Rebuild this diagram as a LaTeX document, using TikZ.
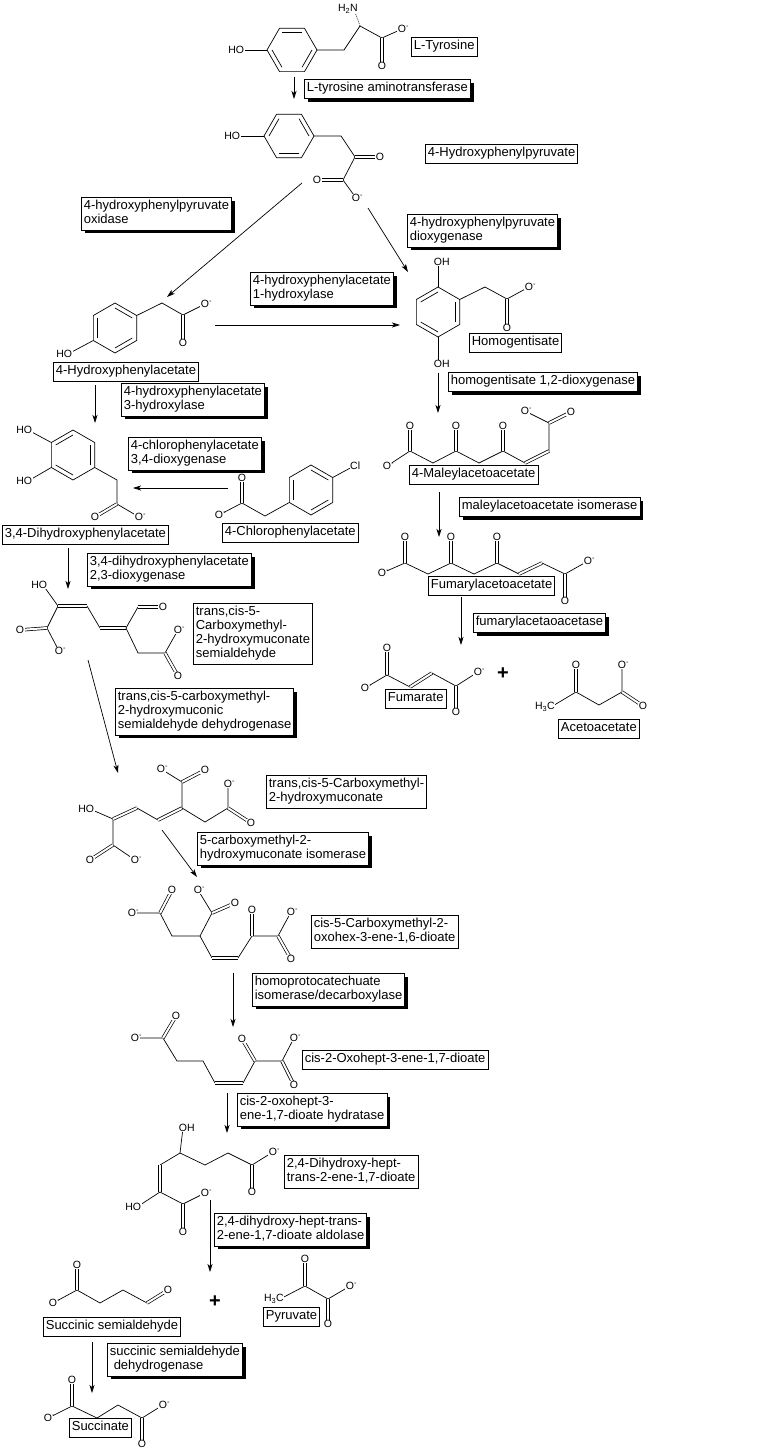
\documentclass[tikz,border=0pt]{standalone}
\usepackage{fontspec}
\setmainfont{Liberation Sans}
\usetikzlibrary{arrows.meta,shadows}
\begin{document}
\begin{tikzpicture}
[x=1pt,y=-1pt,line width=0.7pt,
  enzyme/.style={draw,fill=white,align=left,anchor=north west,inner xsep=2.5pt,inner ysep=2.5pt,
    font=\fontsize{13}{14}\selectfont,execute at begin node=\strut,execute at end node=\strut,
    drop shadow={shadow xshift=3.5pt,shadow yshift=-3.5pt,fill=black,opacity=1}},
  compound/.style={draw,fill=white,align=left,anchor=north west,inner xsep=2.5pt,inner ysep=2.5pt,
    font=\fontsize{13}{14}\selectfont,execute at begin node=\strut,execute at end node=\strut},
  atom/.style={fill=white,inner sep=0.5pt,font=\fontsize{10.5}{11}\selectfont},
  dbl/.style={double,double distance=2pt},
  rxn/.style={-{Stealth[length=8pt,width=5pt,inset=2pt]}}]
\useasboundingbox (0,0) rectangle (777,1450);
% L-Tyrosine
\draw (292,50) +(0:25) -- +(60:25) -- +(120:25) -- +(180:25) -- +(240:25) -- +(300:25) -- cycle;
\foreach \a in {0,120,240} \draw (292,50) +(\a:20) -- +(\a+60:20);
\draw (267,50) -- (240,50);
\draw (317,50) -- (344,50) -- (360,26) -- (382,38) -- (402,29);
\draw[dbl] (382,38) -- (382,66);
\draw[dash pattern=on 0.8pt off 1.2pt] (360,26) -- (354,9);
\node[atom] at (240,50) {\llap{H}O};
\node[atom] at (354,9) {\llap{H\textsubscript{2}}N};
\node[atom] at (402,29) {O\rlap{\textsuperscript{-}}};
\node[atom] at (382,66) {O};
% 4-Hydroxyphenylpyruvate
\draw (289,136) +(0:25) -- +(60:25) -- +(120:25) -- +(180:25) -- +(240:25) -- +(300:25) -- cycle;
\foreach \a in {60,180,300} \draw (289,136) +(\a:20) -- +(\a+60:20);
\draw (264,136) -- (236,136);
\draw (314,136) -- (341,136) -- (355,157) -- (343,180) -- (356,198);
\draw[dbl] (355,157) -- (380,157);
\draw[dbl] (343,180) -- (317,180);
\node[atom] at (236,136) {\llap{H}O};
\node[atom] at (380,157) {O};
\node[atom] at (317,180) {O};
\node[atom] at (356,198) {O\rlap{\textsuperscript{-}}};
% 4-Hydroxyphenylacetate
\draw (115,328) +(30:25) -- +(90:25) -- +(150:25) -- +(210:25) -- +(270:25) -- +(330:25) -- cycle;
\foreach \a in {30,150,270} \draw (115,328) +(\a:20) -- +(\a+60:20);
\draw (93.3,340.5) -- (68,354);
\draw (136.7,315.5) -- (162,303) -- (183,315) -- (205,304);
\draw[dbl] (183,315) -- (183,343);
\node[atom] at (68,354) {\llap{H}O};
\node[atom] at (183,343) {O};
\node[atom] at (205,304) {O\rlap{\textsuperscript{-}}};
% Homogentisate
\draw (438,312) +(30:25) -- +(90:25) -- +(150:25) -- +(210:25) -- +(270:25) -- +(330:25) -- cycle;
\foreach \a in {90,210,330} \draw (438,312) +(\a:20) -- +(\a+60:20);
\draw (438,287) -- (438,262);
\draw (438,337) -- (438,364);
\draw (459.7,299.5) -- (485,287) -- (507,299) -- (529,287);
\draw[dbl] (507,299) -- (507,328);
\node[atom] at (438,262) {O\rlap{H}};
\node[atom] at (438,364) {O\rlap{H}};
\node[atom] at (507,328) {O};
\node[atom] at (529,287) {O\rlap{\textsuperscript{-}}};
% 4-Maleylacetoacetate
\draw (387,466) -- (410,451) -- (433,463) -- (456,451) -- (479,463) -- (503,451) -- (525,463);
\draw[dbl] (525,463) -- (549,451);
\draw (549,451) -- (549,423) -- (525,411);
\draw[dbl] (549,423) -- (571,412);
\foreach \x in {410,456,503} \draw[dbl] (\x,451) -- (\x,426);
\foreach \x in {410,456,503} \node[atom] at (\x,426) {O};
\node[atom] at (387,466) {O\rlap{\textsuperscript{-}}};
\node[atom] at (571,412) {O};
\node[atom] at (525,411) {O\rlap{\textsuperscript{-}}};
% Fumarylacetoacetate
\draw (382,573) -- (405,563) -- (428,574) -- (451,563) -- (474,574) -- (497,563) -- (519,574);
\draw[dbl] (519,574) -- (542,563);
\draw (542,563) -- (565,574) -- (588,561);
\draw[dbl] (565,574) -- (565,601);
\foreach \x in {405,451,497} \draw[dbl] (\x,563) -- (\x,537);
\foreach \x in {405,451,497} \node[atom] at (\x,537) {O};
\node[atom] at (382,573) {O\rlap{\textsuperscript{-}}};
\node[atom] at (588,561) {O\rlap{\textsuperscript{-}}};
\node[atom] at (565,601) {O};
% Fumarate
\draw[dbl] (387,675) -- (387,648);
\draw (365,688) -- (387,675) -- (410,687);
\draw[dbl] (410,687) -- (432,673);
\draw (432,673) -- (456,686) -- (478,672);
\draw[dbl] (456,686) -- (456,712);
\node[atom] at (387,648) {O};
\node[atom] at (365,688) {O\rlap{\textsuperscript{-}}};
\node[atom] at (478,672) {O\rlap{\textsuperscript{-}}};
\node[atom] at (456,712) {O};
\node (plus1) [font=\fontsize{20}{20}\selectfont\bfseries] at (503,674) {+};
% Acetoacetate
\draw (551,707) -- (576,692) -- (599,705) -- (622,692) -- (622,665);
\draw[dbl] (576,692) -- (576,665);
\draw[dbl] (622,692) -- (643,706);
\node[atom] at (551,707) {\llap{H\textsubscript{3}}C};
\node[atom] at (576,665) {O};
\node[atom] at (622,665) {O\rlap{\textsuperscript{-}}};
\node[atom] at (643,706) {O};
% 3,4-Dihydroxyphenylacetate
\draw (73,455) +(30:25) -- +(90:25) -- +(150:25) -- +(210:25) -- +(270:25) -- +(330:25) -- cycle;
\foreach \a in {90,210,330} \draw (73,455) +(\a:20) -- +(\a+60:20);
\draw (51.3,442.5) -- (28,430);
\draw (51.3,467.5) -- (28,481);
\draw (94.7,467.5) -- (117,480) -- (117,504) -- (139,517);
\draw[dbl] (117,504) -- (95,517);
\node[atom] at (28,430) {\llap{H}O};
\node[atom] at (28,481) {\llap{H}O};
\node[atom] at (95,517) {O};
\node[atom] at (139,517) {O\rlap{\textsuperscript{-}}};
% 4-Chlorophenylacetate
\draw (311,490) +(30:25) -- +(90:25) -- +(150:25) -- +(210:25) -- +(270:25) -- +(330:25) -- cycle;
\foreach \a in {30,150,270} \draw (311,490) +(\a:20) -- +(\a+60:20);
\draw (332.7,477.5) -- (354,466);
\draw (289.3,502.5) -- (265,516) -- (242,503) -- (219,515);
\draw[dbl] (242,503) -- (242,478);
\node[atom] at (354,466) {C\rlap{l}};
\node[atom] at (242,478) {O};
\node[atom] at (219,515) {O\rlap{\textsuperscript{-}}};
% semialdehyde
\draw (43,585) -- (58,606) -- (47,628) -- (59,651);
\draw[dbl] (58,606) -- (87,606);
\draw[dbl] (47,628) -- (20,630);
\draw (87,606) -- (100,628);
\draw[dbl] (100,628) -- (126,628);
\draw (126,628) -- (138,607);
\draw[dbl] (138,607) -- (163,607);
\draw (126,628) -- (138,653) -- (165,653) -- (178,630);
\draw[dbl] (165,653) -- (178,676);
\node[atom] at (43,585) {\llap{H}O};
\node[atom] at (20,630) {O};
\node[atom] at (59,651) {O\rlap{\textsuperscript{-}}};
\node[atom] at (163,607) {O};
\node[atom] at (178,630) {O\rlap{\textsuperscript{-}}};
\node[atom] at (178,676) {O};
% hydroxymuconate
\draw (90,809) -- (113,819) -- (113,845) -- (135,860);
\draw[dbl] (113,819) -- (137,808);
\draw[dbl] (113,845) -- (90,860);
\draw (137,808) -- (158,820);
\draw[dbl] (158,820) -- (182,808);
\draw (182,808) -- (182,782) -- (161,769);
\draw[dbl] (182,782) -- (205,770);
\draw (182,808) -- (205,822) -- (228,808) -- (228,784);
\draw[dbl] (228,808) -- (251,823);
\node[atom] at (90,809) {\llap{H}O};
\node[atom] at (135,860) {O\rlap{\textsuperscript{-}}};
\node[atom] at (90,860) {O};
\node[atom] at (161,769) {O\rlap{\textsuperscript{-}}};
\node[atom] at (205,770) {O};
\node[atom] at (228,784) {O\rlap{\textsuperscript{-}}};
\node[atom] at (251,823) {O};
% oxohexenedioate
\draw (132,913) -- (160,913) -- (172,936) -- (200,936) -- (212,913) -- (198,890);
\draw[dbl] (160,913) -- (172,890);
\draw[dbl] (212,913) -- (235,903);
\draw (200,936) -- (212,958);
\draw[dbl] (212,958) -- (238,958);
\draw (238,958) -- (252,936) -- (278,936) -- (291,912);
\draw[dbl] (252,936) -- (252,910);
\draw[dbl] (278,936) -- (291,959);
\node[atom] at (132,913) {O\rlap{\textsuperscript{-}}};
\node[atom] at (172,890) {O};
\node[atom] at (198,890) {O\rlap{\textsuperscript{-}}};
\node[atom] at (235,903) {O};
\node[atom] at (252,910) {O};
\node[atom] at (291,912) {O\rlap{\textsuperscript{-}}};
\node[atom] at (291,959) {O};
% oxoheptenedioate
\draw (135,1038) -- (163,1038) -- (177,1061) -- (203,1061) -- (215,1083);
\draw[dbl] (163,1038) -- (176,1016);
\draw[dbl] (215,1083) -- (243,1083);
\draw (243,1083) -- (255,1061) -- (282,1061) -- (294,1038);
\draw[dbl] (255,1061) -- (242,1039);
\draw[dbl] (282,1061) -- (294,1085);
\node[atom] at (135,1038) {O\rlap{\textsuperscript{-}}};
\node[atom] at (176,1016) {O};
\node[atom] at (242,1039) {O};
\node[atom] at (294,1038) {O\rlap{\textsuperscript{-}}};
\node[atom] at (294,1085) {O};
% dihydroxyheptenedioate
\draw (183,1128) -- (180,1153) -- (205,1165) -- (228,1153) -- (252,1165) -- (273,1152);
\draw[dbl] (252,1165) -- (252,1192);
\draw (180,1153) -- (160,1165);
\draw[dbl] (160,1165) -- (160,1192);
\draw (137,1207) -- (160,1192) -- (183,1204) -- (205,1193);
\draw[dbl] (183,1204) -- (183,1232);
\node[atom] at (183,1128) {O\rlap{H}};
\node[atom] at (273,1152) {O\rlap{\textsuperscript{-}}};
\node[atom] at (252,1192) {O};
\node[atom] at (137,1207) {\llap{H}O};
\node[atom] at (205,1193) {O\rlap{\textsuperscript{-}}};
\node[atom] at (183,1232) {O};
% succinic semialdehyde
\draw (53,1303) -- (77,1290) -- (100,1303) -- (123,1290) -- (147,1303);
\draw[dbl] (77,1290) -- (77,1265);
\draw[dbl] (147,1303) -- (168,1290);
\node[atom] at (53,1303) {O\rlap{\textsuperscript{-}}};
\node[atom] at (77,1265) {O};
\node[atom] at (168,1290) {O};
\node (plus2) [font=\fontsize{20}{20}\selectfont\bfseries] at (215,1302) {+};
% pyruvate
\draw (280,1299) -- (305,1286) -- (328,1299) -- (350,1286);
\draw[dbl] (305,1286) -- (305,1259);
\draw[dbl] (328,1299) -- (328,1324);
\node[atom] at (280,1299) {\llap{H\textsubscript{3}}C};
\node[atom] at (305,1259) {O};
\node[atom] at (350,1286) {O\rlap{\textsuperscript{-}}};
\node[atom] at (328,1324) {O};
% succinate
\draw (48,1418) -- (72,1406) -- (97,1418) -- (118,1405) -- (142,1418) -- (163,1405);
\draw[dbl] (72,1406) -- (72,1380);
\draw[dbl] (142,1418) -- (142,1444);
\node[atom] at (48,1418) {O\rlap{\textsuperscript{-}}};
\node[atom] at (72,1380) {O};
\node[atom] at (163,1405) {O\rlap{\textsuperscript{-}}};
\node[atom] at (142,1444) {O};
% reaction arrows
\coordinate (r1) at (294,77);   \coordinate (r1e) at (294,99);
\coordinate (r2) at (302,183);  \coordinate (r2e) at (167,297);
\coordinate (r3) at (368,208);  \coordinate (r3e) at (408,272);
\coordinate (r4) at (215,325);  \coordinate (r4e) at (400,325);
\coordinate (r5) at (95,385);   \coordinate (r5e) at (95,423);
\coordinate (r6) at (228,488);  \coordinate (r6e) at (133,488);
\coordinate (r7) at (438,373);  \coordinate (r7e) at (438,413);
\coordinate (r8) at (439,492);  \coordinate (r8e) at (439,537);
\coordinate (r9) at (461,597);  \coordinate (r9e) at (461,645);
\coordinate (r10) at (68,548);  \coordinate (r10e) at (68,589);
\coordinate (r11) at (88,660);  \coordinate (r11e) at (118,773);
\coordinate (r12) at (162,830); \coordinate (r12e) at (197,877);
\coordinate (r13) at (233,973); \coordinate (r13e) at (233,1027);
\coordinate (r14) at (227,1093); \coordinate (r14e) at (227,1133);
\coordinate (r15) at (210,1200); \coordinate (r15e) at (210,1272);
\coordinate (r16) at (92,1342); \coordinate (r16e) at (92,1393);
\foreach \r in {r1,r2,r3,r4,r5,r6,r7,r8,r9,r10,r11,r12,r13,r14,r15,r16}
  \draw[rxn] (\r) -- (\r e);
% names
\node[compound] (tyr) at (411,37) {L-Tyrosine};
\node[enzyme] (tat) at (304,79) {L-tyrosine aminotransferase};
\node[compound] (hpp) at (425,144) {4-Hydroxyphenylpyruvate};
\node[enzyme] (hppox) at (81,197) {4-hydroxyphenylpyruvate\\oxidase};
\node[enzyme] (hppd) at (407,214) {4-hydroxyphenylpyruvate\\dioxygenase};
\node[enzyme] (hpah1) at (250,272) {4-hydroxyphenylacetate\\1-hydroxylase};
\node[compound] (hpa) at (53,362) {4-Hydroxyphenylacetate};
\node[compound] (hga) at (469,333) {Homogentisate};
\node[enzyme] (hgd) at (448,372) {homogentisate 1,2-dioxygenase};
\node[enzyme] (hpah3) at (121,383) {4-hydroxyphenylacetate\\3-hydroxylase};
\node[enzyme] (cpad) at (128,437) {4-chlorophenylacetate\\3,4-dioxygenase};
\node[compound] (maa) at (409,465) {4-Maleylacetoacetate};
\node[compound] (cpa) at (222,523) {4-Chlorophenylacetate};
\node[compound] (dhpa) at (2,525) {3,4-Dihydroxyphenylacetate};
\node[enzyme] (mai) at (459,497) {maleylacetoacetate isomerase};
\node[enzyme] (dhpad) at (87,553) {3,4-dihydroxyphenylacetate\\2,3-dioxygenase};
\node[compound] (faa) at (428,576) {Fumarylacetoacetate};
\node[compound] (chmsa) at (193,603) {trans,cis-5-\\Carboxymethyl-\\2-hydroxymuconate\\semialdehyde};
\node[enzyme] (fah) at (473,613) {fumarylacetaoacetase};
\node[compound] (fum) at (385,689) {Fumarate};
\node[compound] (aca) at (558,719) {Acetoacetate};
\node[enzyme] (chmsd) at (115,688) {trans,cis-5-carboxymethyl-\\2-hydroxymuconic\\semialdehyde dehydrogenase};
\node[compound] (chm) at (266,775) {trans,cis-5-Carboxymethyl-\\2-hydroxymuconate};
\node[enzyme] (chmi) at (197,832) {5-carboxymethyl-2-\\hydroxymuconate isomerase};
\node[compound] (cohed) at (311,915) {cis-5-Carboxymethyl-2-\\oxohex-3-ene-1,6-dioate};
\node[enzyme] (hpcd) at (252,973) {homoprotocatechuate\\isomerase/decarboxylase};
\node[compound] (ohed) at (302,1050) {cis-2-Oxohept-3-ene-1,7-dioate};
\node[enzyme] (ohedh) at (237,1093) {cis-2-oxohept-3-\\ene-1,7-dioate hydratase};
\node[compound] (dhhed) at (284,1155) {2,4-Dihydroxy-hept-\\trans-2-ene-1,7-dioate};
\node[enzyme] (dhheda) at (214,1213) {2,4-dihydroxy-hept-trans-\\2-ene-1,7-dioate aldolase};
\node[compound] (ssa) at (43,1317) {Succinic semialdehyde};
\node[compound] (pyr) at (263,1307) {Pyruvate};
\node[enzyme] (ssad) at (107,1343) {succinic semialdehyde\\\hspace*{0.3em}dehydrogenase};
\node[compound] (suc) at (69,1418) {Succinate};
\end{tikzpicture}
\end{document}
